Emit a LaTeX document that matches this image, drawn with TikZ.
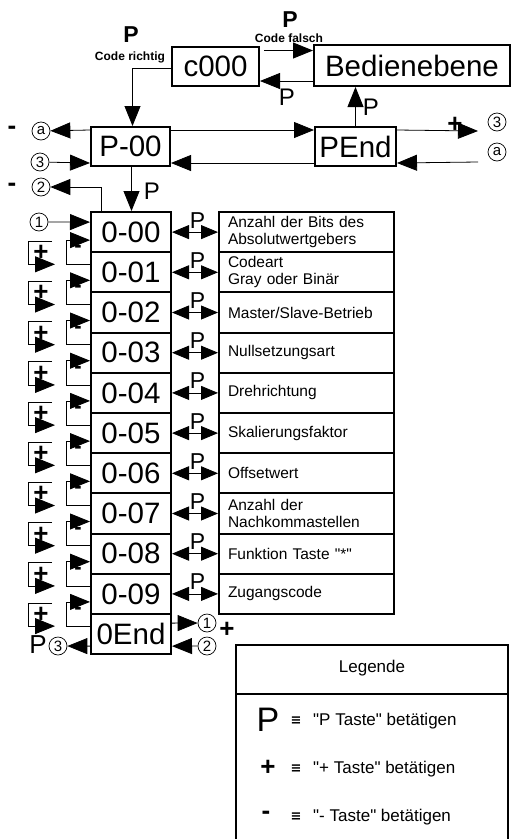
\documentclass[tikz,border=0pt]{standalone}
\usepackage{fontspec}
\setmainfont{Liberation Sans}
\newfontfamily\symfont{DejaVu Sans}
\usetikzlibrary{calc}
\usetikzlibrary{arrows.meta, positioning}

\begin{document}
\begin{tikzpicture}[x=1pt, y=-1pt,
			>={Triangle[length=20pt, width=16pt]},
			display/.style = {draw, line width=2pt, inner sep=0pt, font=\fontsize{29.5}{30}\selectfont},
			row/.style = {display, minimum width=80pt, minimum height=40.2pt},
			param/.style = {draw, line width=2pt, minimum height=40.2pt, text width=157pt, inner xsep=9pt, inner ysep=0pt, align=left, font=\fontsize{15.5}{17}\selectfont},
			cnum/.style = {draw, circle, line width=0.7pt, inner sep=0pt, minimum size=18pt, font=\fontsize{15}{15}\selectfont},
			conn/.style = {line width=0.8pt},
			arr/.style = {conn, ->},
			darr/.style = {conn, {Triangle[length=17pt, width=14pt]}-{Triangle[length=17pt, width=14pt]}},
			barr/.style = {conn, ->},
			key/.style = {inner sep=0pt, font=\fontsize{24}{24}\selectfont},
			keybold/.style = {inner sep=0pt, font=\fontsize{23}{23}\selectfont\bfseries},
			sign/.style = {inner sep=0pt, font=\fontsize{26}{26}\selectfont\bfseries},
			hint/.style = {inner sep=0pt, font=\fontsize{12}{12}\selectfont\bfseries}
			]
			\useasboundingbox (0,0) rectangle (513,839);
			
			% Codeabfrage
			\node[keybold] (pRichtig) at (131,35) {P};
			\node[hint] (richtig) at (130,57) {Code richtig};
			\node[keybold] (pFalsch) at (290,20) {P};
			\node[hint] (falsch) at (289,38) {Code falsch};
			\node[display, minimum width=87pt, minimum height=39pt] (c000) at (215.5,66.5) {c000};
			\node[display, minimum width=196pt, minimum height=41pt] (bed) at (412,65.5) {Bedienebene};
			\draw[arr] ([xshift=4pt,yshift=-4.5pt]c000.north east) -- ([yshift=-4.5pt]c000.north east -| bed.west);
			\draw[arr] ([yshift=6pt]bed.south west) -- ([yshift=6pt]bed.south west -| c000.east);
			\node[key] (pBack) at (287,97) {P};
			
			% Parameterebene
			\node[display, minimum width=79pt, minimum height=39pt] (p00) at (130.5,146.5) {P-00};
			\node[display, minimum width=81pt, minimum height=39pt] (pend) at (355.5,146.5) {PEnd};
			\draw[arr] ([yshift=-1.5pt]c000.west) -| ([xshift=2pt]p00.north);
			\draw[arr] ([yshift=-4pt]p00.north east) -- ([yshift=-4pt]pend.north west);
			\draw[arr] ([yshift=4pt]pend.south west) -- ([yshift=4pt]p00.south east);
			\draw[arr] (pend.north) -- (pend.north |- bed.south);
			\node[key] (pUp) at (371,107) {P};
			
			\node[cnum] (caL) at (41,131) {a};
			\node[sign] at (12,130) {-};
			\draw[arr] ([yshift=-4pt]p00.north west) -- (caL);
			\node[cnum] (c3L) at (40,162) {3};
			\draw[arr] (c3L) -- ([yshift=4pt]p00.south west);
			
			\coordinate (plusEnd) at (478,131);
			\coordinate (aStart) at (478,162);
			\draw[arr] ([yshift=-4pt]pend.north east) -- (plusEnd);
			\node[sign] at (455,125) {+};
			\node[cnum] (c3R) at (497,122) {3};
			\node[cnum] (caR) at (497,152) {a};
			\draw[arr] (aStart) -- ([yshift=4pt]pend.south east);
			
			% Parameterliste
			\node[row] (r0) at (131,232.1) {0-00};
			\foreach \i in {1,...,9}
				\node[row] (r\i) at (131,{232.1+40.2*\i}) {0-0\i};
			\node[row] (r10) at (131,{232.1+402}) {0End};
			
			\foreach \i/\desc in {0/{Anzahl der Bits des\\Absolutwertgebers}, 1/{Codeart\\Gray oder Binär}, 2/{Master/Slave-Betrieb}, 3/Nullsetzungsart, 4/Drehrichtung, 5/Skalierungsfaktor, 6/Offsetwert, 7/{Anzahl der\\Nachkommastellen}, 8/{Funktion Taste \textquotedbl*\textquotedbl}, 9/Zugangscode}
			{
				\node[param] (d\i) at (306.5,{232.1+40.2*\i}) {\desc};
				\draw[darr] (r\i.east) -- (d\i.west);
				\node[key, font=\fontsize{23}{23}\selectfont] at ($(r\i.east)!0.5!(d\i.west)+(2.5,-12)$) {P};
			}
			
			\draw[arr] ([xshift=1pt]p00.south) -- ([xshift=1pt]p00.south |- r0.north);
			\node[key] (pDown) at (152,191) {P};
			\node[sign] at (12,187) {-};
			\node[cnum] (c2T) at (41,187) {2};
			\draw[arr] ($(r0.north west)+(11,0)$) |- (c2T);
			\node[cnum] (c1T) at (39,222) {1};
			\draw[arr] (c1T) -- ([yshift=10pt]r0.west);
			
			% + / - Tasten
			\foreach \i [count=\j] in {0,...,9}
			{
				\draw[barr] ([yshift=8pt]r\j.west) -- ++(-24,0) |- ([yshift=-8pt]r\i.west);
				\node[sign, font=\fontsize{22}{22}\selectfont\bfseries] at ($(r\i.west)+(-12,17)$) {-};
				\draw[barr] ($(r\i.west)+(-38,9)$) -- ++(-24,0) |- ($(r\j.west)+(-35,-8)$);
				\node[sign] at ($(r\i.west)+(-49,21)$) {+};
			}
			
			\node[cnum] (c1B) at (207,623) {1};
			\node[cnum] (c2B) at (207,646) {2};
			\draw[arr] ([yshift=11pt]r10.east) -- (c1B);
			\draw[arr] (c2B) -- ([yshift=-12pt]r10.east);
			\node[sign] at (227,630) {+};
			\node[cnum] (c3B) at (58,646) {3};
			\draw[arr] ([yshift=-12pt]r10.west) -- (c3B);
			\node[key, font=\fontsize{26}{26}\selectfont] at (38,645) {P};
			
			% Legende
			\draw[line width=2pt] (236,845) -- (236,645) -- (508,645) -- (508,845);
			\draw[line width=2pt] (236,694) -- (508,694);
			\node[inner sep=0pt, font=\fontsize{17}{17}\selectfont] (legende) at (372,668) {Legende};
			\node[key, font=\fontsize{34}{34}\selectfont] (lp) at (268,720) {P};
			\node[sign] (lplus) at (268,768) {+};
			\node[sign] (lminus) at (266,815) {-};
			\foreach \y/\txt in {721/{\textquotedbl P Taste\textquotedbl{} betätigen}, 769/{\textquotedbl + Taste\textquotedbl{} betätigen}, 817/{\textquotedbl - Taste\textquotedbl{} betätigen}}
			{
				\node[inner sep=0pt, font=\symfont\fontsize{13}{13}\selectfont\bfseries] at (296,\y) {≡};
				\node[inner sep=0pt, anchor=west, font=\fontsize{17}{17}\selectfont] at (313,\y) {\txt};
			}
		\end{tikzpicture}
\end{document}
